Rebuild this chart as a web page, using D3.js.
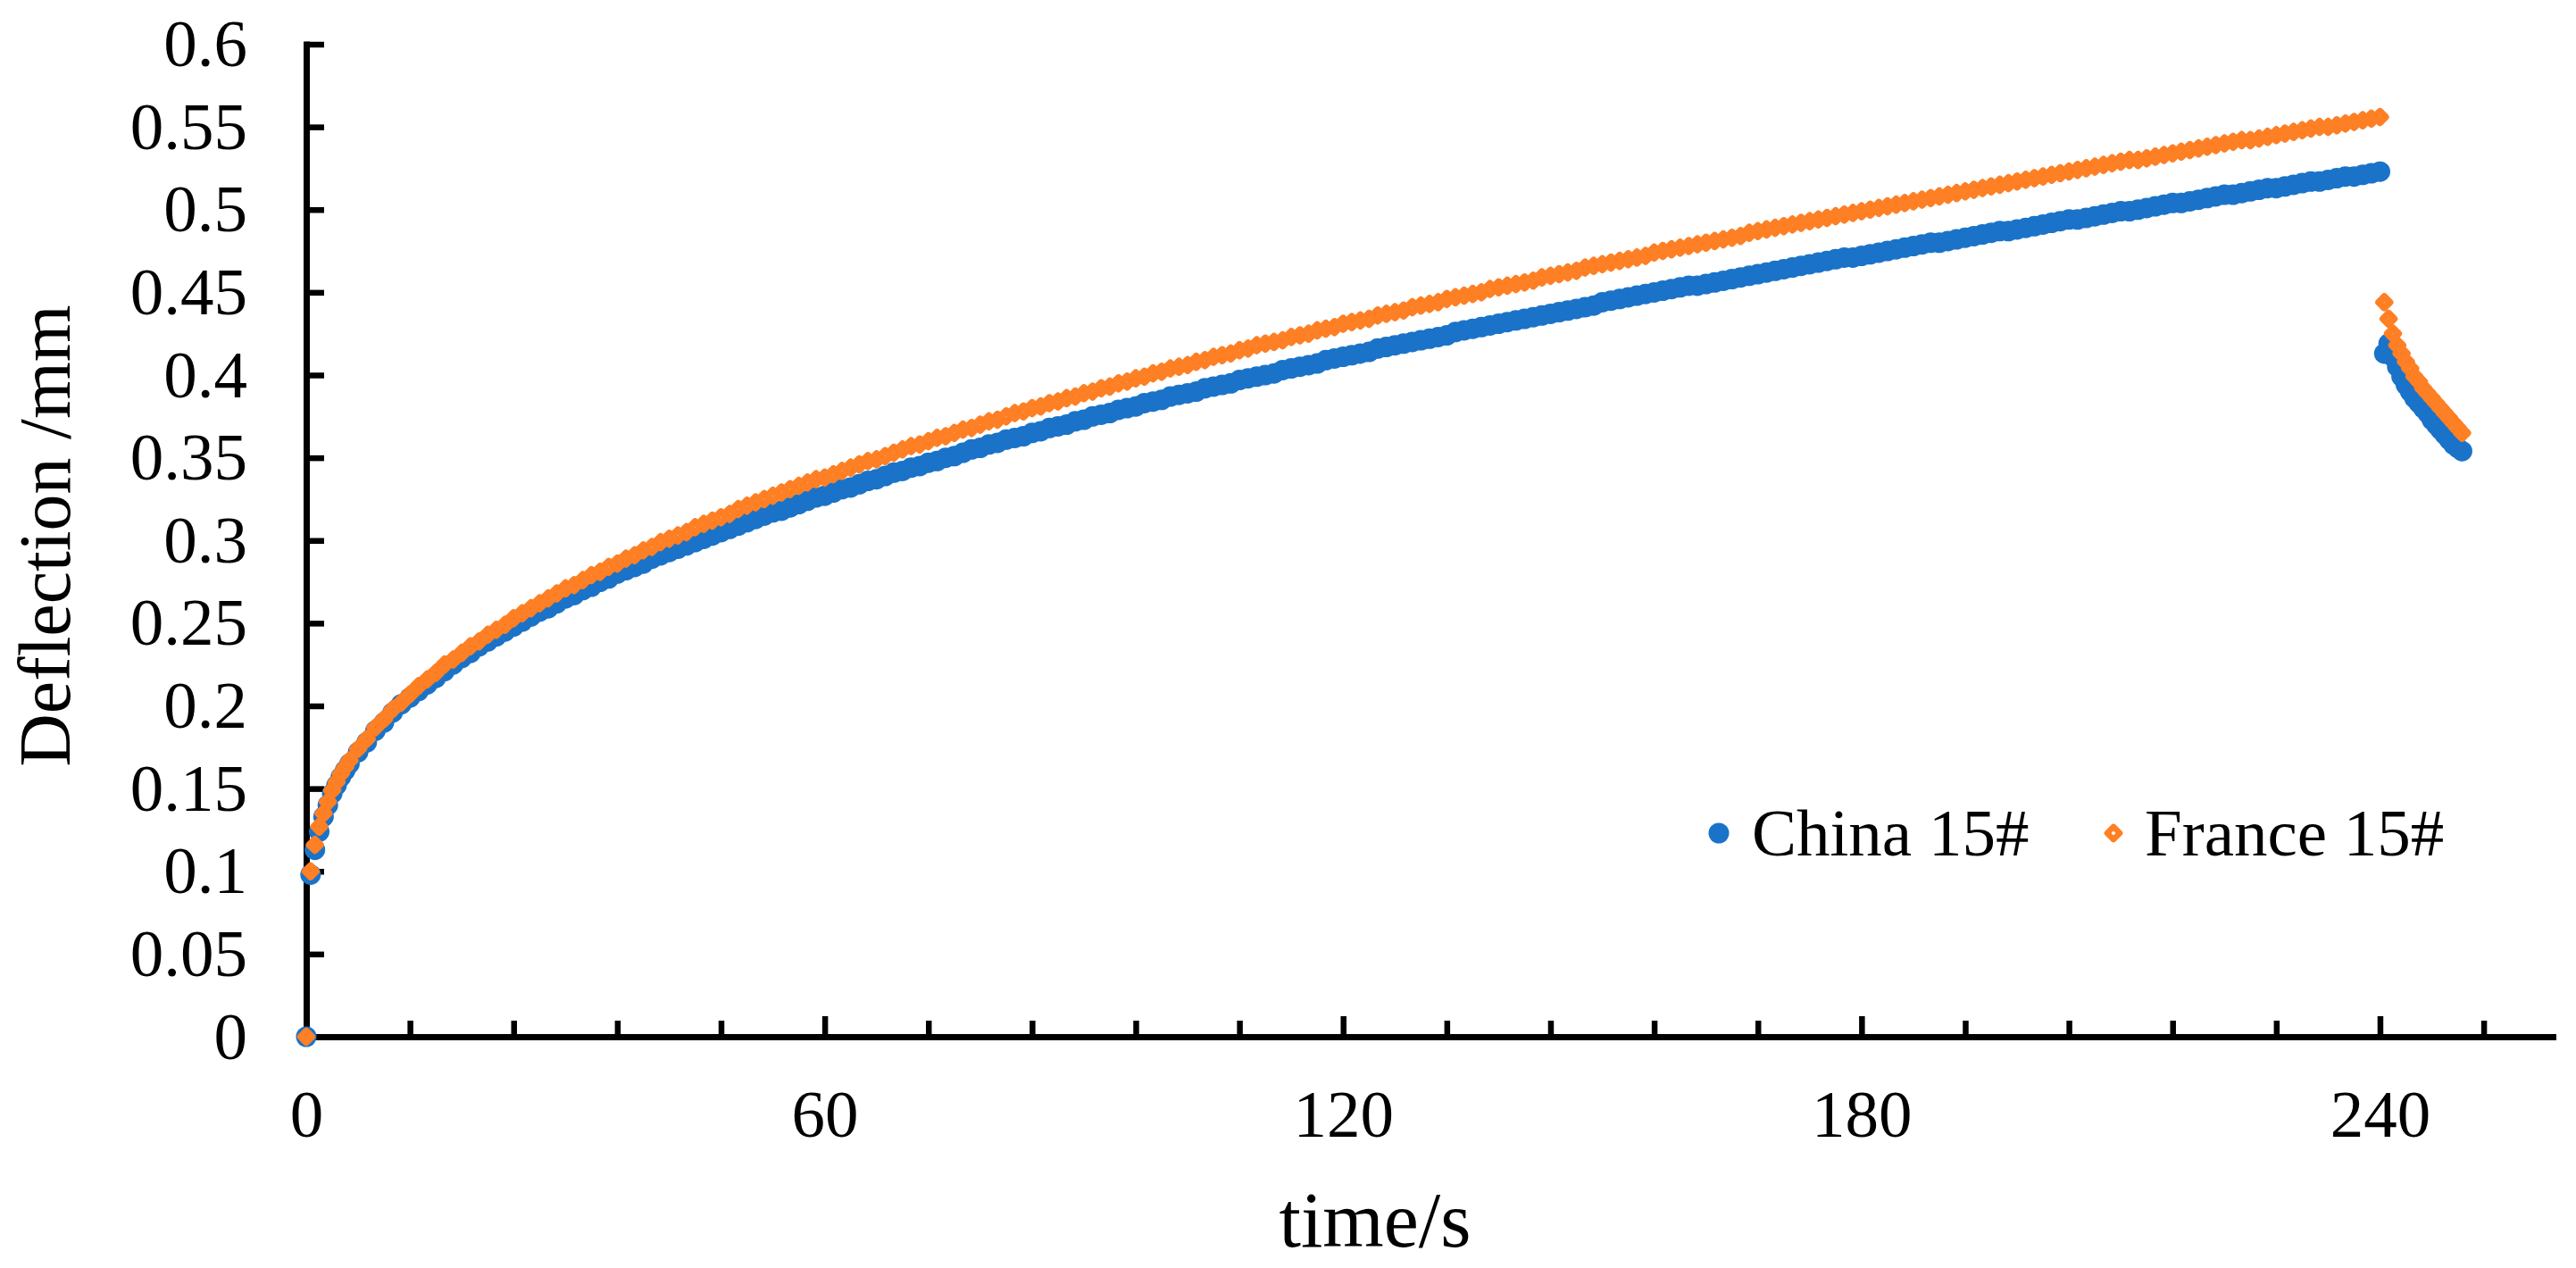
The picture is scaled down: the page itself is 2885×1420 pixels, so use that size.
<!DOCTYPE html>
<html>
<head>
<meta charset="utf-8">
<script src="https://cdn.jsdelivr.net/npm/d3@7"></script>
<style>
  body { margin: 0; background: #fff; }
</style>
</head>
<body>
<svg id="chart" width="2885" height="1420"></svg>
<script>
// time in seconds, shared by both series
var time = [
  0, 0.5, 1, 1.5, 2, 2.5, 3, 3.5, 4, 4.5,
  5, 6, 7, 8, 9, 10,
  11, 12, 13, 14, 15, 16, 17, 18, 19, 20,
  21, 22, 23, 24, 25, 26, 27, 28, 29, 30,
  31, 32, 33, 34, 35, 36, 37, 38, 39, 40,
  41, 42, 43, 44, 45, 46, 47, 48, 49, 50,
  51, 52, 53, 54, 55, 56, 57, 58, 59, 60,
  61, 62, 63, 64, 65, 66, 67, 68, 69, 70,
  71, 72, 73, 74, 75, 76, 77, 78, 79, 80,
  81, 82, 83, 84, 85, 86, 87, 88, 89, 90,
  91, 92, 93, 94, 95, 96, 97, 98, 99, 100,
  101, 102, 103, 104, 105, 106, 107, 108, 109, 110,
  111, 112, 113, 114, 115, 116, 117, 118, 119, 120,
  121, 122, 123, 124, 125, 126, 127, 128, 129, 130,
  131, 132, 133, 134, 135, 136, 137, 138, 139, 140,
  141, 142, 143, 144, 145, 146, 147, 148, 149, 150,
  151, 152, 153, 154, 155, 156, 157, 158, 159, 160,
  161, 162, 163, 164, 165, 166, 167, 168, 169, 170,
  171, 172, 173, 174, 175, 176, 177, 178, 179, 180,
  181, 182, 183, 184, 185, 186, 187, 188, 189, 190,
  191, 192, 193, 194, 195, 196, 197, 198, 199, 200,
  201, 202, 203, 204, 205, 206, 207, 208, 209, 210,
  211, 212, 213, 214, 215, 216, 217, 218, 219, 220,
  221, 222, 223, 224, 225, 226, 227, 228, 229, 230,
  231, 232, 233, 234, 235, 236, 237, 238, 239, 240,
  240.5, 241, 241.5, 242, 242.5, 243, 243.5, 244, 244.5, 245,
  245.5, 246, 246.5, 247, 247.5, 248, 248.5, 249, 249.5
]

// deflection /mm
var china15 = [
  0, 0.098, 0.113, 0.124, 0.133, 0.140, 0.147, 0.152, 0.157, 0.161,
  0.165, 0.172, 0.178, 0.185, 0.190, 0.196,
  0.201, 0.205, 0.209, 0.213, 0.217, 0.221, 0.225, 0.229, 0.232, 0.236,
  0.239, 0.242, 0.245, 0.248, 0.251, 0.254, 0.257, 0.259, 0.262, 0.265,
  0.267, 0.270, 0.272, 0.275, 0.277, 0.280, 0.282, 0.284, 0.286, 0.289,
  0.291, 0.293, 0.295, 0.297, 0.299, 0.301, 0.303, 0.305, 0.307, 0.309,
  0.311, 0.313, 0.315, 0.317, 0.318, 0.320, 0.322, 0.324, 0.326, 0.327,
  0.329, 0.331, 0.332, 0.334, 0.336, 0.337, 0.339, 0.341, 0.342, 0.344,
  0.345, 0.347, 0.348, 0.350, 0.351, 0.353, 0.355, 0.356, 0.358, 0.359,
  0.361, 0.362, 0.363, 0.365, 0.366, 0.368, 0.369, 0.370, 0.372, 0.373,
  0.375, 0.376, 0.377, 0.379, 0.380, 0.381, 0.383, 0.384, 0.385, 0.387,
  0.388, 0.389, 0.390, 0.392, 0.393, 0.394, 0.395, 0.397, 0.398, 0.399,
  0.400, 0.401, 0.403, 0.404, 0.405, 0.406, 0.407, 0.409, 0.410, 0.411,
  0.412, 0.413, 0.414, 0.416, 0.417, 0.418, 0.419, 0.420, 0.421, 0.422,
  0.423, 0.424, 0.426, 0.427, 0.428, 0.429, 0.430, 0.431, 0.432, 0.433,
  0.434, 0.435, 0.436, 0.437, 0.438, 0.439, 0.440, 0.441, 0.442, 0.444,
  0.445, 0.446, 0.447, 0.448, 0.449, 0.450, 0.451, 0.452, 0.453, 0.454,
  0.454, 0.455, 0.456, 0.457, 0.458, 0.459, 0.460, 0.461, 0.462, 0.463,
  0.464, 0.465, 0.466, 0.467, 0.468, 0.469, 0.470, 0.471, 0.471, 0.472,
  0.473, 0.474, 0.475, 0.476, 0.477, 0.478, 0.479, 0.480, 0.480, 0.481,
  0.482, 0.483, 0.484, 0.485, 0.486, 0.487, 0.487, 0.488, 0.489, 0.490,
  0.491, 0.492, 0.493, 0.494, 0.494, 0.495, 0.496, 0.497, 0.498, 0.499,
  0.499, 0.500, 0.501, 0.502, 0.503, 0.504, 0.504, 0.505, 0.506, 0.507,
  0.508, 0.509, 0.509, 0.510, 0.511, 0.512, 0.513, 0.513, 0.514, 0.515,
  0.516, 0.517, 0.517, 0.518, 0.519, 0.520, 0.520, 0.521, 0.522, 0.523,
  0.413, 0.419, 0.411, 0.405, 0.399, 0.394, 0.390, 0.386, 0.383, 0.380,
  0.377, 0.373, 0.370, 0.367, 0.364, 0.361, 0.358, 0.356, 0.354
]

var france15 = [
  0, 0.100, 0.116, 0.127, 0.135, 0.142, 0.149, 0.154, 0.159, 0.163,
  0.167, 0.174, 0.180, 0.187, 0.192, 0.198,
  0.202, 0.207, 0.212, 0.216, 0.220, 0.225, 0.228, 0.232, 0.236, 0.239,
  0.243, 0.246, 0.249, 0.253, 0.256, 0.259, 0.262, 0.265, 0.268, 0.271,
  0.273, 0.276, 0.279, 0.281, 0.284, 0.286, 0.289, 0.291, 0.294, 0.296,
  0.299, 0.301, 0.303, 0.305, 0.308, 0.310, 0.312, 0.314, 0.316, 0.319,
  0.321, 0.323, 0.325, 0.327, 0.329, 0.331, 0.333, 0.335, 0.337, 0.338,
  0.340, 0.342, 0.344, 0.346, 0.348, 0.349, 0.351, 0.353, 0.355, 0.357,
  0.358, 0.360, 0.362, 0.363, 0.365, 0.367, 0.368, 0.370, 0.372, 0.373,
  0.375, 0.377, 0.378, 0.380, 0.381, 0.383, 0.384, 0.386, 0.387, 0.389,
  0.390, 0.392, 0.393, 0.395, 0.396, 0.398, 0.399, 0.401, 0.402, 0.404,
  0.405, 0.406, 0.408, 0.409, 0.411, 0.412, 0.413, 0.415, 0.416, 0.418,
  0.419, 0.420, 0.421, 0.423, 0.424, 0.425, 0.427, 0.428, 0.429, 0.431,
  0.432, 0.433, 0.434, 0.436, 0.437, 0.438, 0.439, 0.441, 0.442, 0.443,
  0.444, 0.446, 0.447, 0.448, 0.449, 0.450, 0.452, 0.453, 0.454, 0.455,
  0.456, 0.457, 0.459, 0.460, 0.461, 0.462, 0.463, 0.465, 0.466, 0.467,
  0.468, 0.469, 0.470, 0.471, 0.472, 0.474, 0.475, 0.476, 0.477, 0.478,
  0.479, 0.480, 0.481, 0.482, 0.483, 0.484, 0.486, 0.487, 0.488, 0.489,
  0.490, 0.491, 0.492, 0.493, 0.494, 0.495, 0.496, 0.497, 0.498, 0.499,
  0.500, 0.501, 0.502, 0.503, 0.504, 0.505, 0.506, 0.507, 0.508, 0.509,
  0.510, 0.511, 0.512, 0.513, 0.514, 0.515, 0.516, 0.517, 0.518, 0.519,
  0.520, 0.521, 0.522, 0.523, 0.524, 0.525, 0.526, 0.527, 0.528, 0.529,
  0.530, 0.530, 0.531, 0.532, 0.533, 0.534, 0.535, 0.536, 0.537, 0.538,
  0.539, 0.540, 0.541, 0.542, 0.542, 0.543, 0.544, 0.545, 0.546, 0.547,
  0.548, 0.549, 0.550, 0.550, 0.551, 0.552, 0.553, 0.554, 0.555, 0.556,
  0.444, 0.434, 0.425, 0.418, 0.413, 0.408, 0.404, 0.399, 0.396, 0.392,
  0.389, 0.386, 0.383, 0.380, 0.377, 0.374, 0.371, 0.368, 0.365
]

var seriesNames = ['China 15#', 'France 15#']
var xMajorTicks = [0, 60, 120, 180, 240]
var xMinorTicks = [12, 24, 36, 48, 72, 84, 96, 108, 132, 144, 156, 168, 192, 204, 216, 228, 252]
var yTicks = [0, 0.05, 0.1, 0.15, 0.2, 0.25, 0.3, 0.35, 0.4, 0.45, 0.5, 0.55, 0.6]
var yTickLabels = ['0', '0.05', '0.1', '0.15', '0.2', '0.25', '0.3', '0.35', '0.4', '0.45', '0.5', '0.55', '0.6']

var blue = '#1a73c8',
  orange = '#fe7f24',
  font = '"Liberation Serif", "Times New Roman", serif'

var svg = d3.select('#chart')

svg.append('rect')
  .attr('width', 2885)
  .attr('height', 1420)
  .attr('fill', '#fff')

var x = d3.scaleLinear().domain([0, 260]).range([343, 2859]),
  y = d3.scaleLinear().domain([0, 0.6]).range([1161, 49.5])

function styleAxis (g) {
  g.attr('font-size', 75).attr('font-family', font)
  g.select('.domain').attr('stroke-width', 7).attr('stroke-linecap', 'square')
  g.selectAll('.tick line').attr('stroke-width', 6.5)
  g.selectAll('.tick text').attr('fill', '#000')
}

// y axis, ticks pointing inwards
svg.append('g')
  .attr('transform', 'translate(343,0)')
  .call(d3.axisLeft(y)
    .tickValues(yTicks)
    .tickFormat(function (d, i) { return yTickLabels[i] })
    .tickSize(-20)
    .tickSizeOuter(0)
    .tickPadding(66))
  .call(styleAxis)

// x axis minor ticks
svg.append('g')
  .attr('transform', 'translate(0,1161)')
  .call(d3.axisBottom(x)
    .tickValues(xMinorTicks)
    .tickFormat('')
    .tickSize(-18)
    .tickSizeOuter(0))
  .call(styleAxis)
  .select('.domain').remove()

// x axis major ticks
svg.append('g')
  .attr('transform', 'translate(0,1161)')
  .call(d3.axisBottom(x)
    .tickValues(xMajorTicks)
    .tickFormat(d3.format('d'))
    .tickSize(-23)
    .tickSizeOuter(0)
    .tickPadding(59))
  .call(styleAxis)

// axis titles
svg.append('text')
  .attr('x', 1540)
  .attr('y', 1396)
  .attr('text-anchor', 'middle')
  .attr('font-family', font)
  .attr('font-size', 88)
  .text('time/s')

svg.append('text')
  .attr('transform', 'translate(78,600) rotate(-90)')
  .attr('text-anchor', 'middle')
  .attr('font-family', font)
  .attr('font-size', 82)
  .text('Deflection /mm')

var circle = d3.symbol(d3.symbolCircle, Math.PI * 11.5 * 11.5),
  diamond = d3.symbol(d3.symbolSquare, 75),
  keyDiamond = d3.symbol(d3.symbolSquare, 101)

var chinaPts = time.map(function (t, i) { return [t, china15[i]] }),
  francePts = time.map(function (t, i) { return [t, france15[i]] })

svg.append('g')
  .selectAll('path')
  .data(chinaPts)
  .enter().append('path')
  .attr('d', circle)
  .attr('transform', function (d) { return 'translate(' + x(d[0]) + ',' + y(d[1]) + ')' })
  .attr('fill', blue)

svg.append('g')
  .selectAll('path')
  .data(francePts)
  .enter().append('path')
  .attr('d', diamond)
  .attr('transform', function (d) { return 'translate(' + x(d[0]) + ',' + y(d[1]) + ') rotate(45)' })
  .attr('fill', 'none')
  .attr('stroke', orange)
  .attr('stroke-width', 8)
  .attr('stroke-linejoin', 'round')

// legend
var legend = svg.append('g')
  .attr('font-family', font)
  .attr('font-size', 75)

var chinaKey = legend.append('g').attr('transform', 'translate(1925,933)')
chinaKey.append('path').attr('d', circle).attr('fill', blue)
chinaKey.append('text').attr('x', 37).attr('y', 25).text(seriesNames[0])

var franceKey = legend.append('g').attr('transform', 'translate(2367,933)')
franceKey.append('path').attr('d', keyDiamond)
  .attr('transform', 'rotate(45)')
  .attr('fill', 'none')
  .attr('stroke', orange)
  .attr('stroke-width', 6.5)
  .attr('stroke-linejoin', 'round')
franceKey.append('text').attr('x', 35).attr('y', 25).text(seriesNames[1])
</script>
</body>
</html>
